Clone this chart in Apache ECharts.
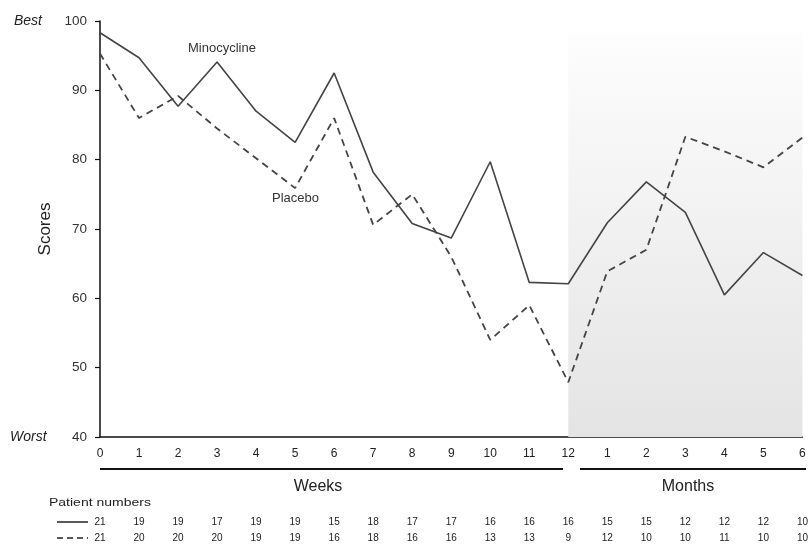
<!DOCTYPE html>
<html>
<head>
<meta charset="utf-8">
<script src="https://cdn.jsdelivr.net/npm/echarts@6/dist/echarts.min.js"></script>
<style>html,body{margin:0;padding:0;background:#fff}#c{width:811px;height:548px}</style>
</head>
<body>
<div id="c"></div>
<script>
var tickLabels = ["0","1","2","3","4","5","6","7","8","9","10","11","12","1","2","3","4","5","6"];
var minocycline = [98.3, 94.7, 87.7, 94.1, 87.0, 82.5, 92.5, 78.2, 70.8, 68.7, 79.7, 62.3, 62.1, 70.9, 76.8, 72.4, 60.5, 66.6, 63.3];
var placebo = [95.3, 86.0, 89.2, 84.5, 80.2, 75.9, 86.0, 70.6, 75.0, 66.0, 54.0, 59.0, 47.9, 63.9, 67.0, 83.3, 81.2, 78.9, 83.2];
var patientsMino = [21,19,19,17,19,19,15,18,17,17,16,16,16,15,15,12,12,12,10];
var patientsPlac = [21,20,20,20,19,19,16,18,16,16,13,13,9,12,10,10,11,10,10];
var yTicks = [40,50,60,70,80,90,100];

function pairs(arr){ return arr.map(function(v,i){ return [i, v]; }); }

var chart = echarts.init(document.getElementById('c'));
var font = 'Liberation Sans, Arial, sans-serif';
var option = {
  animation: false,
  grid: { left: 100, right: 5, top: 21, bottom: 111 },
  xAxis: [
    { type: 'value', min: 0, max: 18, interval: 1,
      axisLine: { show: true, lineStyle: { color: '#111', width: 1.5 } },
      axisTick: { show: false }, splitLine: { show: false },
      axisLabel: { margin: 11, fontSize: 12, color: '#222', fontFamily: font,
        formatter: function(v){ return tickLabels[v]; } } },
    { type: 'value', min: 0, max: 18, interval: 1, position: 'bottom', offset: 74,
      axisLine: { show: false }, axisTick: { show: false }, splitLine: { show: false },
      axisLabel: { margin: 6, fontSize: 10, color: '#222', fontFamily: font,
        formatter: function(v){ return String(patientsMino[v]); } } },
    { type: 'value', min: 0, max: 18, interval: 1, position: 'bottom', offset: 90,
      axisLine: { show: false }, axisTick: { show: false }, splitLine: { show: false },
      axisLabel: { margin: 6, fontSize: 10, color: '#222', fontFamily: font,
        formatter: function(v){ return String(patientsPlac[v]); } } }
  ],
  yAxis: {
    type: 'value', min: 40, max: 100, interval: 10,
    name: 'Scores', nameLocation: 'middle', nameGap: 46, nameRotate: 90,
    nameTextStyle: { fontSize: 17, color: '#222', fontFamily: font },
    axisLine: { show: true, lineStyle: { color: '#111', width: 1.5 } },
    axisTick: { show: true, inside: false, length: 5, lineStyle: { color: '#111', width: 1.2 } },
    splitLine: { show: false },
    axisLabel: { margin: 13, fontSize: 13.5, color: '#333', fontFamily: font,
      formatter: function(v){ return yTicks.indexOf(v) >= 0 ? String(v) : ''; } }
  },
  series: [
    { name: 'Minocycline', type: 'line', data: pairs(minocycline), symbol: 'none',
      lineStyle: { color: '#444', width: 1.6, type: 'solid' },
      markArea: { silent: true, data: [[
        { xAxis: 12, yAxis: 98.3, itemStyle: { color: { type: 'linear', x: 0, y: 0, x2: 0, y2: 1,
          colorStops: [{ offset: 0, color: '#fdfdfd' }, { offset: 1, color: '#e4e4e4' }] } } },
        { xAxis: 18, yAxis: 40 }
      ]] },
      z: 3 },
    { name: 'Placebo', type: 'line', data: pairs(placebo), symbol: 'none',
      lineStyle: { color: '#444', width: 1.8, type: [7, 5] }, z: 3 }
  ],
  graphic: [
    { type: 'text', x: 14, y: 21, style: { text: 'Best', font: 'italic 14px ' + font, fill: '#222', verticalAlign: 'middle' } },
    { type: 'text', x: 10, y: 437, style: { text: 'Worst', font: 'italic 14px ' + font, fill: '#222', verticalAlign: 'middle' } },
    { type: 'text', x: 188, y: 48, style: { text: 'Minocycline', font: '13px ' + font, fill: '#333', verticalAlign: 'middle' } },
    { type: 'text', x: 272, y: 198, style: { text: 'Placebo', font: '13px ' + font, fill: '#333', verticalAlign: 'middle' } },
    { type: 'line', shape: { x1: 100, y1: 469, x2: 563, y2: 469 }, style: { stroke: '#111', lineWidth: 2 } },
    { type: 'line', shape: { x1: 580, y1: 469, x2: 806, y2: 469 }, style: { stroke: '#111', lineWidth: 2 } },
    { type: 'text', x: 318, y: 487, style: { text: 'Weeks', font: '16px ' + font, fill: '#222', align: 'center', verticalAlign: 'middle' } },
    { type: 'text', x: 688, y: 487, style: { text: 'Months', font: '16px ' + font, fill: '#222', align: 'center', verticalAlign: 'middle' } },
    { type: 'text', x: 49, y: 503, scaleX: 1.4, style: { text: 'Patient numbers', font: '10px ' + font, fill: '#222', verticalAlign: 'middle' } },
    { type: 'line', shape: { x1: 57, y1: 522, x2: 88, y2: 522 }, style: { stroke: '#222', lineWidth: 1.5 } },
    { type: 'line', shape: { x1: 57, y1: 538, x2: 88, y2: 538 }, style: { stroke: '#222', lineWidth: 1.5, lineDash: [6, 4] } }
  ]
};
chart.setOption(option);
</script>
</body>
</html>
